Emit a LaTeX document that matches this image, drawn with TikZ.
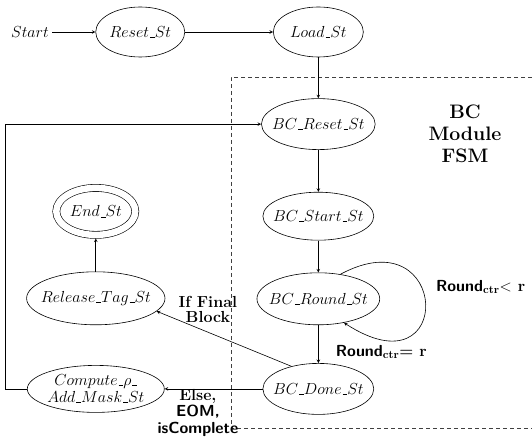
\RequirePackage{fix-cm}
\documentclass[tikz,border=0pt]{standalone}
\usepackage{amsmath}
\usepackage{amssymb}
\usepackage{tikz}
\usetikzlibrary{arrows,positioning,shapes.geometric,automata}

\newcommand{\stbar}{\mbox{\kern.06em\vbox{\hrule width.3em}}}

\begin{document}
\begin{tikzpicture}[-stealth,line width=0.6pt,x=1pt,y=1pt,auto,
    every node/.style={font=\fontsize{16}{19}\selectfont},
    every state/.style={draw,ellipse,inner xsep=-6pt,inner ysep=0pt,minimum width=89pt,minimum height=50pt},
    lbl/.style={font=\bfseries\fontsize{16}{15}\selectfont,align=center}]

    \useasboundingbox (0,0) rectangle (532,-438);

    % module box, open to the right
    \draw[-,black!75,dash pattern=on 4pt off 3pt] (532,-77) -| (231,-428) -- (532,-428);

    \node (start) at (30,-32) {$Start$};
    \node[state] (reset) [right=43pt of start] {$Reset\stbar St$};
    \node[state,minimum width=90pt] (load) [right=88pt of reset] {$Load\stbar St$};

    \node[state,minimum width=108pt,minimum height=51pt] (bcreset) [below=41pt of load] {$BC\stbar Reset\stbar St$};
    \node[state,minimum width=101pt,minimum height=48pt] (bcstart) [below=42pt of bcreset] {$BC\stbar Start\stbar St$};
    \node[state,minimum width=116pt,minimum height=52pt] (bcround) [below=32pt of bcstart] {$BC\stbar Round\stbar St$};
    \node[state,minimum width=108pt,minimum height=51pt] (bcdone) [below=38pt of bcround] {$BC\stbar Done\stbar St$};

    \node[state,minimum width=137pt,minimum height=47pt,align=center,font=\fontsize{16}{17}\selectfont] (compute) [left=98pt of bcdone] {$Compute\stbar\rho\stbar$\\$Add\stbar Mask\stbar St$};
    \node[state,minimum width=137pt,minimum height=53pt] (release) [above=40pt of compute] {$Release\stbar Tag\stbar St$};
    \node[state,accepting,minimum width=79pt,minimum height=47pt,double distance=6.5pt,outer sep=3.6pt] (endst) [above=33pt of release] {$End\stbar St$};

    \node[font=\bfseries\fontsize{19.5}{22}\selectfont,align=center] (fsm) at (465,-134) {BC\\Module\\FSM};

	\draw (start) -- (reset);
	\draw (reset) -- (load);
	\draw (load) -- (bcreset);
	\draw (bcreset) -- (bcstart);
	\draw (bcstart) -- (bcround);
	\draw (bcround.48) .. controls +(110,59) and +(112,-73) .. (bcround.-43)
	    node[pos=0.4,right=11pt,lbl] {\textsf{Round}$_{\mathbf{ctr}}$$<$ r};
	\draw (bcround) -- node[pos=0.7,right=14pt,lbl] {\textsf{Round}$_{\mathbf{ctr}}$= r} (bcdone);
	\draw (bcdone.140) -- node[pos=0.62,above=6pt,lbl] {If Final\\Block} (release.-12);
	\draw (bcdone) -- node[pos=0.66,below,inner sep=0pt,lbl,font=\bfseries\fontsize{16}{16.5}\selectfont] {Else,\\\textsf{EOM,}\\\textsf{isComplete}} (compute);
	\draw (release) -- (endst);
	\draw (compute.west) -- ++(-22,0) |- (bcreset.west);
  \end{tikzpicture}
\end{document}
